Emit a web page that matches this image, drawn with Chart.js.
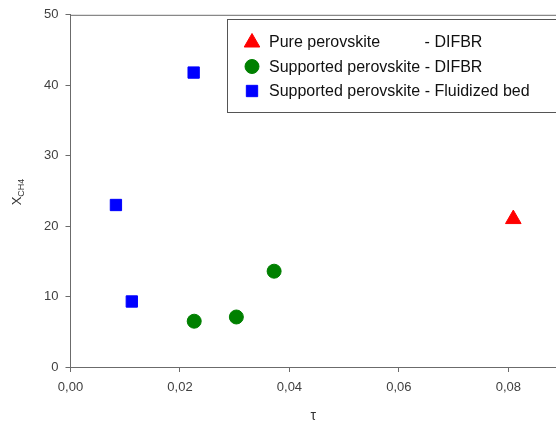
<!DOCTYPE html>
<html>
<head>
<meta charset="utf-8">
<script src="https://cdn.jsdelivr.net/npm/chart.js@4/dist/chart.umd.min.js"></script>
<style>
  html, body { margin: 0; padding: 0; background: #fff; }
  #wrap { width: 556px; height: 426px; }
</style>
</head>
<body>
<div id="wrap"><canvas id="chart" width="556" height="426"></canvas></div>
<script>
// values
const pureX = [0.0809];
const pureY = [21.0];
const suppDifbrX = [0.0226, 0.0303, 0.0372];
const suppDifbrY = [6.5, 7.1, 13.6];
const fluidX = [0.0225, 0.0083, 0.0112];
const fluidY = [41.8, 23.0, 9.3];

const xTicks = [0, 0.02, 0.04, 0.06, 0.08];
const yTicks = [0, 10, 20, 30, 40, 50];

const labels = [
  "Pure perovskite          - DIFBR",
  "Supported perovskite - DIFBR",
  "Supported perovskite - Fluidized bed"
];

const axisColor = "#6b6b6b";
const tickColor = "#404040";

function toPoints(xs, ys) {
  return xs.map((x, i) => ({ x: x, y: ys[i] }));
}

// top frame line + y title with subscript + boxed legend
const extras = {
  id: "extras",
  afterDraw(chart) {
    const ctx = chart.ctx;
    const area = chart.chartArea;
    ctx.save();
    ctx.strokeStyle = axisColor;
    ctx.lineWidth = 1;
    ctx.beginPath();
    ctx.moveTo(area.left, area.top + 0.5);
    ctx.lineTo(area.right, area.top + 0.5);
    ctx.stroke();

    // y title: X with CH4 subscript, rotated
    ctx.translate(17, 192);
    ctx.rotate(-Math.PI / 2);
    ctx.fillStyle = "#333";
    ctx.textBaseline = "alphabetic";
    ctx.font = "13px 'Liberation Sans', Arial, sans-serif";
    const xw = ctx.measureText("X").width;
    const subFont = "9px 'Liberation Sans', Arial, sans-serif";
    ctx.font = subFont;
    const sw = ctx.measureText("CH4").width;
    const start = -(xw + sw) / 2;
    ctx.font = "13px 'Liberation Sans', Arial, sans-serif";
    ctx.fillText("X", start, 4);
    ctx.font = subFont;
    ctx.fillText("CH4", start + xw, 7);
    ctx.restore();

    // legend box
    ctx.save();
    ctx.strokeStyle = "#555";
    ctx.lineWidth = 1;
    ctx.fillStyle = "#fff";
    ctx.fillRect(227, 19, 340, 93);
    ctx.strokeRect(227.5, 19.5, 340, 93);
    ctx.font = "16px 'Liberation Sans', Arial, sans-serif";
    ctx.textBaseline = "middle";
    const rows = [41.5, 66.5, 91];
    chart.data.datasets.forEach((ds, i) => {
      ctx.fillStyle = ds.backgroundColor;
      ctx.strokeStyle = ds.borderColor;
      ctx.lineWidth = ds.borderWidth;
      Chart.helpers.drawPoint(ctx, {
        pointStyle: ds.pointStyle,
        radius: ds.pointRadius,
        borderWidth: ds.borderWidth,
        rotation: 0
      }, 252, rows[i] + (ds.pointStyle === "triangle" ? 1 : 0));
      ctx.fillStyle = "#111";
      ctx.fillText(ds.label, 269, rows[i] + 1);
    });
    ctx.restore();
  }
};

new Chart(document.getElementById("chart"), {
  type: "scatter",
  data: {
    datasets: [
      {
        label: labels[0],
        data: toPoints(pureX, pureY),
        pointStyle: "triangle",
        pointRadius: 9,
        borderWidth: 1,
        backgroundColor: "#ff0000",
        borderColor: "#ff0000"
      },
      {
        label: labels[1],
        data: toPoints(suppDifbrX, suppDifbrY),
        pointStyle: "circle",
        pointRadius: 7,
        borderWidth: 1,
        backgroundColor: "#008000",
        borderColor: "#008000"
      },
      {
        label: labels[2],
        data: toPoints(fluidX, fluidY),
        pointStyle: "rect",
        pointRadius: 8,
        borderWidth: 1,
        backgroundColor: "#0000ff",
        borderColor: "#0000ff"
      }
    ]
  },
  options: {
    responsive: false,
    animation: false,
    layout: { autoPadding: false, padding: { top: 14, left: 0, right: 0, bottom: 0 } },
    plugins: {
      legend: { display: false },
      tooltip: { enabled: false }
    },
    scales: {
      x: {
        type: "linear",
        min: 0,
        max: 0.0887,
        afterBuildTicks: (scale) => {
          scale.ticks = xTicks.map(v => ({ value: v }));
        },
        afterFit: (scale) => { scale.height = 59; },
        grid: { drawOnChartArea: false, tickLength: 5, color: axisColor },
        border: { color: axisColor, width: 1 },
        ticks: {
          color: tickColor,
          padding: 8,
          maxRotation: 0,
          font: { size: 13, family: "'Liberation Sans', Arial, sans-serif" },
          callback: (v) => Number(v).toFixed(2).replace(".", ",")
        },
        title: {
          display: true,
          text: "τ",
          color: "#333",
          padding: { top: 0, bottom: 1 },
          font: { size: 14, family: "'Liberation Sans', Arial, sans-serif" }
        }
      },
      y: {
        min: 0,
        max: 50,
        afterBuildTicks: (scale) => {
          scale.ticks = yTicks.map(v => ({ value: v }));
        },
        afterFit: (scale) => { scale.width = 70.5; },
        grid: { drawOnChartArea: false, tickLength: 5, color: axisColor },
        border: { color: axisColor, width: 1 },
        ticks: {
          color: tickColor,
          padding: 7,
          font: { size: 13, family: "'Liberation Sans', Arial, sans-serif" }
        }
      }
    }
  },
  plugins: [extras]
});
</script>
</body>
</html>
